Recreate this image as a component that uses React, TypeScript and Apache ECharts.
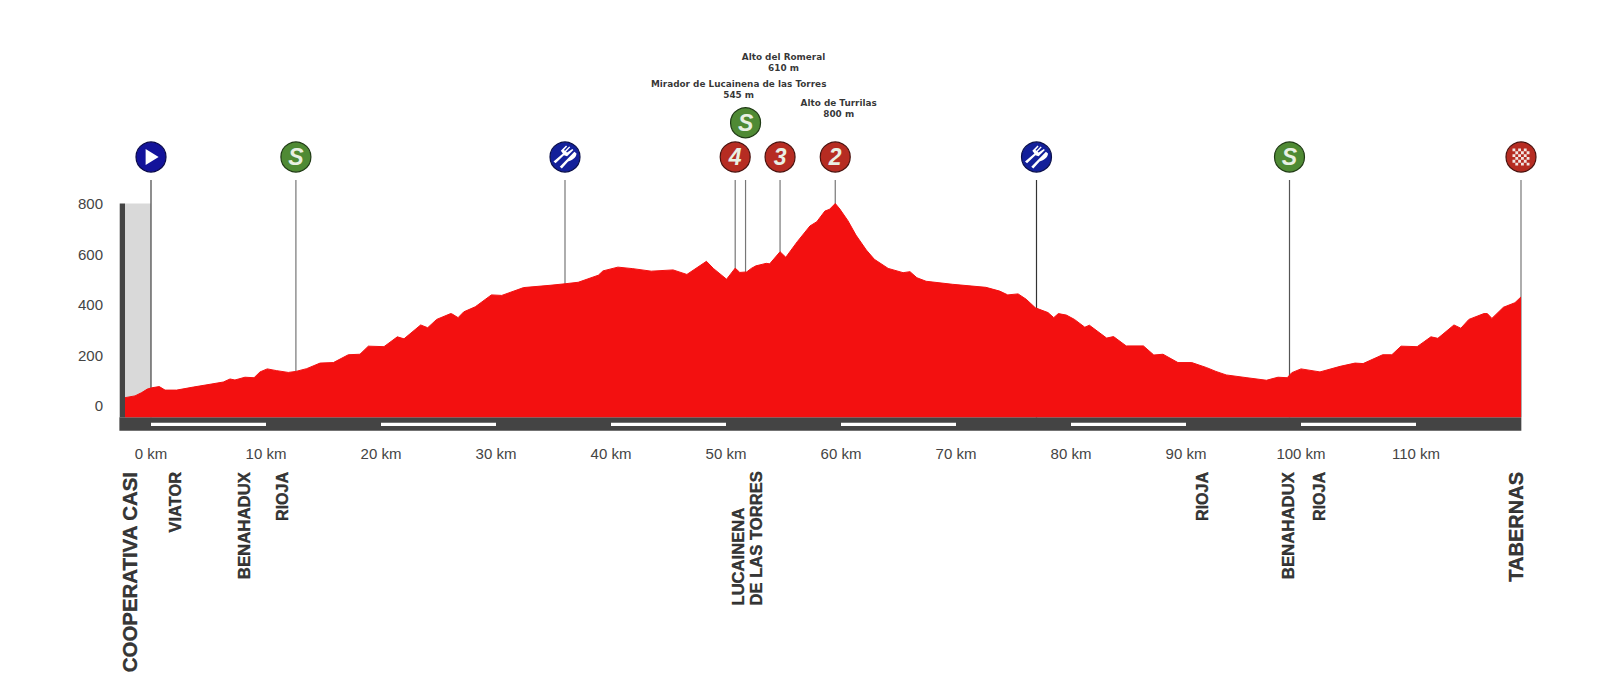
import React, { useEffect, useRef } from "react";
import * as echarts from "echarts";

const profileKm = [-2.26,-1.39,-0.81,-0.32,0.06,0.72,1.22,2.23,3.68,5.13,6.29,6.87,7.3,8.17,8.96,9.48,10.11,10.93,11.94,12.6,13.54,14.7,15.86,17.16,18.17,18.9,20.26,21.42,22,23.45,24.06,24.84,26.06,26.2,26.7,27.2,28.2,29.6,30.5,32.4,34.7,36,37.15,38.9,39.3,40.6,41.9,43.5,45.4,46.6,48.3,48.9,50.05,50.8,51.2,51.8,52.2,52.6,53.5,53.8,54.7,55.2,56.2,57.3,57.9,58.6,59,59.5,59.9,60.6,61.3,62.2,62.9,64.1,65.4,66,66.6,67.4,69.7,72.6,73.8,74.5,75.4,76.1,76.9,78,78.5,78.9,79.6,80.3,81.2,81.6,83.1,83.7,84.8,86.3,87.2,88,89.3,90.5,91.8,92.6,93.5,95.3,97,98,98.8,99.2,100,101.65,103.4,104.7,105.4,107.1,107.9,108.7,110.1,111.3,111.9,113.3,113.9,114.6,115.9,116.2,116.6,117.6,118.6,119.13];
const profileElev = [31,38,51,65,70,75,61,61,73,84,93,105,101,112,110,133,145,138,131,135,146,168,170,201,203,235,233,272,264,319,308,341,364,362,348,371,391,438,436,467,476,482,488,516,533,548,542,532,537,519,571,543,500,544,527,529,543,553,563,561,609,587,649,711,728,770,777,800,778,732,675,616,579,543,526,530,506,492,480,468,453,438,442,421,387,368,348,364,358,341,310,318,267,273,236,236,200,203,170,170,150,135,121,110,100,112,110,130,145,133,155,168,166,201,201,235,233,272,266,319,306,341,364,364,345,389,407,430];

const yTickLabels = [0, 200, 400, 600, 800];
const kmTickLabels = [0, 10, 20, 30, 40, 50, 60, 70, 80, 90, 100, 110];

const dropKm = [0, 12.6, 36, 50.8, 51.7, 54.7, 59.5, 77, 99, 119.13];
const dropColors = ["#444", "#777", "#777", "#777", "#777", "#777", "#777", "#333", "#555", "#777"];

const sprintKm = [12.6, 51.7, 99];
const sprintLevels = [984, 1120, 984];
const climbKm = [50.8, 54.7, 59.5];
const climbCats = ["4", "3", "2"];
const feedKm = [36, 77];
const startKm = 0;
const finishKm = 119.13;

const climbNames = ["Alto del Romeral\n610 m", "Mirador de Lucainena de las Torres\n545 m", "Alto de Turrilas\n800 m"];
const climbNameKm = [55, 51.1, 59.8];
const climbNameLevels = [1360, 1253, 1176];

const townNames = ["COOPERATIVA CASI", "VIATOR", "BENAHADUX", "RIOJA", "RIOJA", "BENAHADUX", "RIOJA", "TABERNAS"];
const townKm = [-1.85, 2.1, 8.1, 11.4, 91.4, 98.9, 101.6, 118.7];
const townSizes = [20.4, 16.4, 16.8, 16, 16, 16.8, 16, 20];
const stackedTownName = "LUCAINENA\nDE LAS TORRES";
const stackedTownKm = 51.9;

const FONT = '"Liberation Sans", Arial, sans-serif';

const checker = (() => {
  let d = "";
  for (let r = 0; r < 6; r++)
    for (let c = 0; c < 6; c++)
      if ((r + c) % 2 === 0) d += `M${c} ${r}h1v1h-1z`;
  return "path://" + d;
})();
const cutlery =
  "path://M4 20 L13 11 L11 8 L16 2 L17 3 L14 7 L15 8 L19 3 L20 4 L16 9 L17 10 L22 6 L23 7 L17 14 L14 13 L6 22 Z M10 26 L24 9 L26 11 C26 16 21 19 18 20 L12 28 Z";

const rectSeries = (data: number[][], color: string, z: number) => ({
  type: "custom",
  z,
  silent: true,
  encode: { x: 0, y: 2 },
  data,
  renderItem: (_: any, api: any) => {
    const a = api.coord([api.value(0), api.value(3)]);
    const b = api.coord([api.value(1), api.value(2)]);
    return { type: "rect", shape: { x: a[0], y: a[1], width: b[0] - a[0], height: b[1] - a[1] }, style: { fill: color } };
  },
});

const iconSeries = (data: any[], symbol: string, size: any, color: string, border: string, z: number, extra: any = {}) => ({
  type: "scatter",
  z,
  silent: true,
  symbol,
  symbolSize: size,
  itemStyle: { color, borderColor: border, borderWidth: border === "none" ? 0 : 1.2, opacity: 1 },
  data,
  ...extra,
});

export default function App() {
  const ref = useRef<HTMLDivElement>(null);
  useEffect(() => {
    document.body.style.margin = "0";
    const chart = echarts.init(ref.current!, undefined, { renderer: "svg" });
    const profile = profileKm.map((k, i) => [k, profileElev[i]]);
    const strips = kmTickLabels.filter((k) => k % 20 === 0).map((k) => [k, k + 10, -81.5, -68]);
    const glyphLabel = () => ({
      show: true,
      position: "inside",
      color: "#e9f0e4",
      fontFamily: FONT,
      fontWeight: "bold",
      fontStyle: "italic",
      fontSize: 23,
      formatter: (p: any) => p.data.glyph,
    });
    chart.setOption({
      animation: false,
      backgroundColor: "#fff",
      grid: [
        { left: 36, width: 1495, top: 26.75, height: 404 },
        { left: 36, width: 1495, top: 431, height: 258 },
      ],
      xAxis: [
        {
          type: "value", min: -10, max: 120, interval: 10,
          axisLine: { show: false }, axisTick: { show: false }, splitLine: { show: false },
          axisLabel: {
            margin: 15, color: "#444", fontFamily: FONT, fontSize: 15,
            formatter: (v: number) => (kmTickLabels.includes(v) ? `${v} km` : ""),
          },
        },
        { gridIndex: 1, type: "value", min: -10, max: 120, show: false },
      ],
      yAxis: [
        {
          type: "value", min: -100, max: 1500, interval: 100, offset: -67,
          axisLine: { show: false }, axisTick: { show: false }, splitLine: { show: false },
          axisLabel: {
            margin: 0, color: "#444", fontFamily: FONT, fontSize: 15, padding: [5, 0, 0, 0],
            formatter: (v: number) => (yTickLabels.includes(v) ? String(v) : ""),
          },
        },
        { gridIndex: 1, type: "value", min: 0, max: 258, inverse: true, show: false },
      ],
      series: [
        rectSeries([[-2.26, 0, 0, 800]], "#d9d9d9", 1),
        rectSeries([[-2.72, -2.26, -47, 800], [-2.75, 119.16, -100, -47]], "#444444", 2),
        rectSeries(strips, "#ffffff", 3),
        {
          type: "custom",
          z: 4,
          silent: true,
          encode: { x: 0, y: 1 },
          data: dropKm.map((k, i) => [k, 893, dropColors[i]]),
          renderItem: (_: any, api: any) => {
            const a = api.coord([api.value(0), api.value(1)]);
            const b = api.coord([api.value(0), -47]);
            return { type: "line", shape: { x1: a[0], y1: a[1], x2: b[0], y2: b[1] }, style: { stroke: api.value(2), lineWidth: 1.2 } };
          },
        },
        {
          type: "line",
          z: 5,
          silent: true,
          data: profile,
          showSymbol: false,
          lineStyle: { color: "#f31010", width: 1 },
          areaStyle: { color: "#f31010", opacity: 1, origin: -47 },
        },
        iconSeries(sprintKm.map((k, i) => ({ value: [k, sprintLevels[i]], glyph: "S" })), "circle", 30, "#4f8a34", "#1f3a14", 6, { label: glyphLabel() }),
        iconSeries(climbKm.map((k, i) => ({ value: [k, 984], glyph: climbCats[i] })), "circle", 30, "#b62c22", "#4a120e", 6, { label: glyphLabel() }),
        iconSeries(feedKm.map((k) => [k, 984]), "circle", 30, "#13209a", "#0a0f4a", 6),
        iconSeries(feedKm.map((k) => [k, 984]), cutlery, 23, "#ffffff", "none", 7),
        iconSeries([[startKm, 984]], "circle", 30, "#13139a", "#0a0a4a", 6),
        iconSeries([[startKm + 0.1, 984]], "triangle", [16, 13], "#ffffff", "none", 7, { symbolRotate: -90 }),
        iconSeries([[finishKm, 984]], "circle", 30, "#b62c22", "#4a120e", 6),
        iconSeries([[finishKm, 984]], checker, 17, "#f2e6e4", "none", 7),
        {
          type: "scatter",
          z: 8,
          silent: true,
          symbolSize: 0,
          data: climbNames.map((n, i) => ({ value: [climbNameKm[i], climbNameLevels[i]], name: n })),
          label: {
            show: true, position: "inside", align: "center", verticalAlign: "middle",
            formatter: (p: any) => p.data.name,
            color: "#000", fontFamily: '"DejaVu Sans", sans-serif', fontWeight: "bold", fontSize: 8.9, lineHeight: 11,
          },
        },
        {
          type: "scatter",
          xAxisIndex: 1,
          yAxisIndex: 1,
          silent: true,
          symbolSize: 0,
          data: [
            ...townNames.map((n, i) => ({
              value: [townKm[i], 41],
              name: n,
              label: { fontSize: townSizes[i], align: "right" },
            })),
            { value: [stackedTownKm, 174.5], name: stackedTownName, label: { fontSize: 16.6, align: "left", lineHeight: 18 } },
          ],
          label: {
            show: true, position: "inside", rotate: 90, verticalAlign: "middle",
            formatter: (p: any) => p.data.name,
            color: "#000", fontFamily: FONT, fontWeight: "bold", textBorderColor: "#000", textBorderWidth: 0.4,
          },
        },
      ],
    });
    return () => chart.dispose();
  }, []);
  return <div ref={ref} style={{ position: "absolute", left: 0, top: 0, width: 1600, height: 689 }} />;
}
